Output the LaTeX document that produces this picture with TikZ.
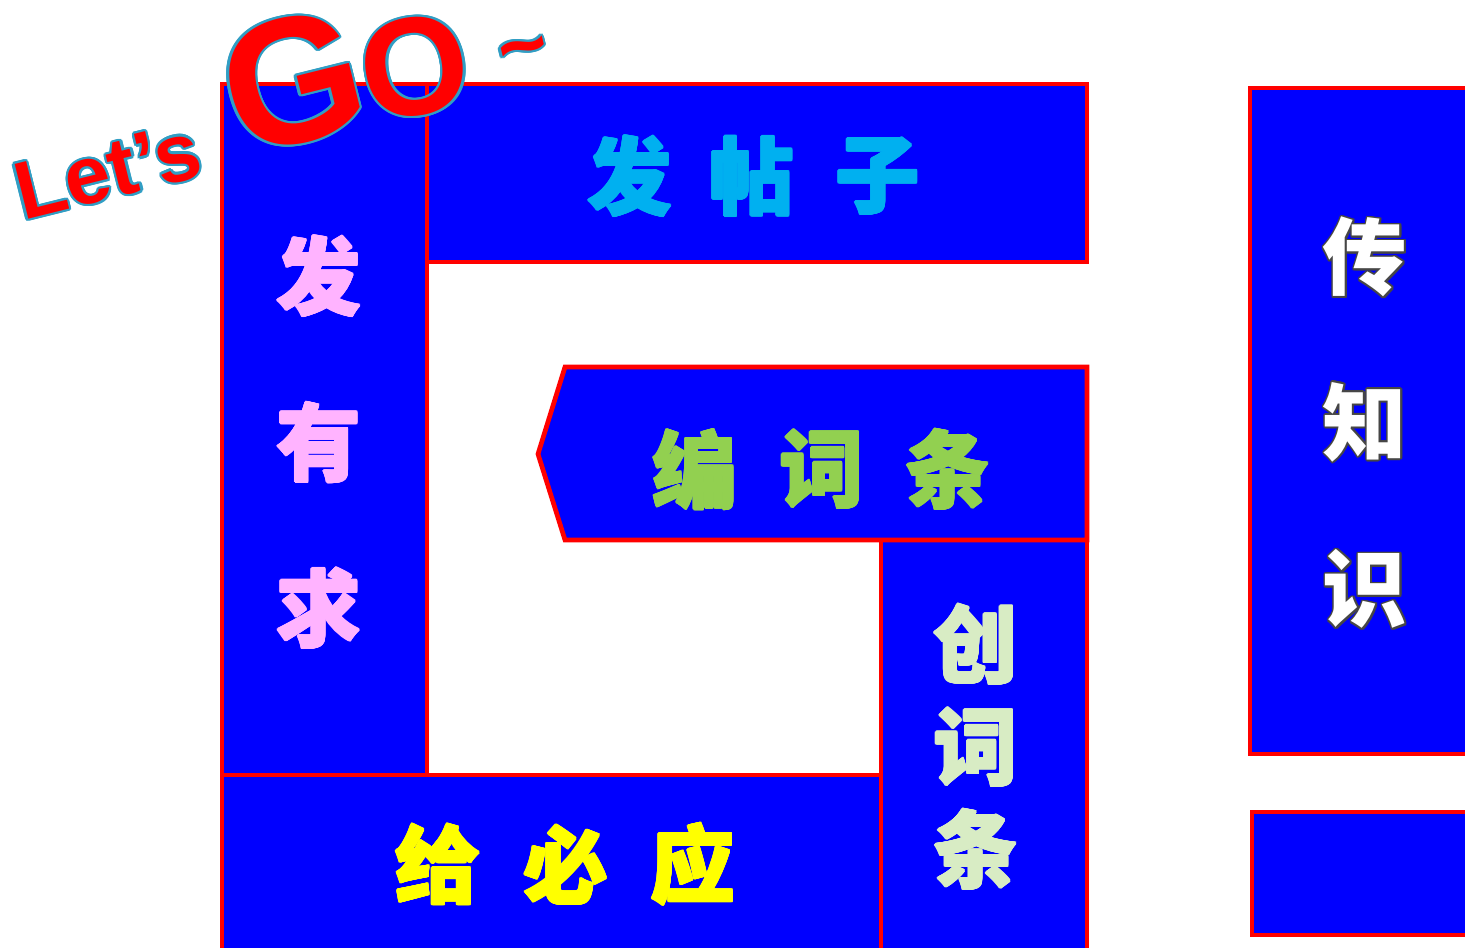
\documentclass[tikz,border=0pt]{standalone}
\usepackage{fontspec}
\usepackage{contour}
\setsansfont{Liberation Sans}
\newfontfamily\cjk{Noto Sans CJK SC}
\definecolor{panelblue}{RGB}{0,0,255}
\definecolor{panelred}{RGB}{255,0,0}
\definecolor{postcyan}{RGB}{0,176,240}
\definecolor{askpink}{RGB}{255,179,255}
\definecolor{editgreen}{RGB}{146,208,80}
\definecolor{creategreen}{RGB}{216,236,196}
\definecolor{answeryellow}{RGB}{255,255,0}
\definecolor{knowgray}{RGB}{70,70,70}
\definecolor{goteal}{RGB}{49,158,196}
\contourlength{2pt}

\begin{document}
\begin{tikzpicture}[x=0.03cm,y=-0.03cm,
  main box/.style={fill=panelblue,draw=panelred,line width=4pt,line join=miter},
  word node/.style={inner sep=0pt,font=\cjk\bfseries\fontsize{72}{72}\selectfont\contourlength{0.9pt}},
  go node/.style={inner sep=0pt,text=red,font=\sffamily\bfseries}]
  \useasboundingbox (0,0) rectangle (1465,947);

  % boxes
  \draw[main box] (222,84) rectangle (427,775);
  \draw[main box] (427,84) rectangle (1087,262);
  \draw[main box] (222,775) rectangle (881,960);
  \draw[main box] (881,540) rectangle (1087,960);
  \draw[main box] (565,367) -- (1087,367) -- (1087,540) -- (565,540) -- (538,454) -- cycle;
  \draw[main box] (1250,88) rectangle (1480,754);
  \draw[main box] (1252,812) rectangle (1480,935);

  % words
  \foreach \ch/\x [count=\i] in {发/630,帖/752,子/878}
    \node[word node,text=postcyan] (post\i) at (\x,177) {\contour{postcyan}{\ch}};
  \foreach \ch/\y [count=\i] in {发/277,有/443,求/609}
    \node[word node,text=askpink] (ask\i) at (319,\y) {\contour{askpink}{\ch}};
  \foreach \ch/\x [count=\i] in {编/695,词/822,条/948}
    \node[word node,text=editgreen] (edit\i) at (\x,470) {\contour{editgreen}{\ch}};
  \foreach \ch/\y [count=\i] in {创/645,词/748,条/850}
    \node[word node,text=creategreen] (create\i) at (976,\y) {\contour{creategreen}{\ch}};
  \foreach \ch/\x [count=\i] in {给/438,必/566,应/693}
    \node[word node,text=answeryellow] (answer\i) at (\x,865) {\contour{answeryellow}{\ch}};
  \foreach \ch/\y [count=\i] in {传/258,知/423,识/590}
    \node[word node,text=white] (know\i) at (1365,\y) {\contourlength{1.5pt}\contour{knowgray}{\ch}};

  % title
  \node[go node,rotate=14,font=\sffamily\bfseries\fontsize{70}{70}\selectfont] (lets) at (108,172) {\contour{goteal}{Let’s}};
  \node[go node,rotate=14,font=\sffamily\bfseries\fontsize{153}{153}\selectfont] (g) at (293,82) {\contour{goteal}{G}};
  \node[go node,rotate=10,font=\sffamily\bfseries\fontsize{119}{119}\selectfont] (o) at (415,68) {\contour{goteal}{O}};
  \node[go node,rotate=14,font=\sffamily\bfseries\fontsize{72}{72}\selectfont] (tilde) at (525,58) {\contour{goteal}{\char`\~}};
\end{tikzpicture}
\end{document}
